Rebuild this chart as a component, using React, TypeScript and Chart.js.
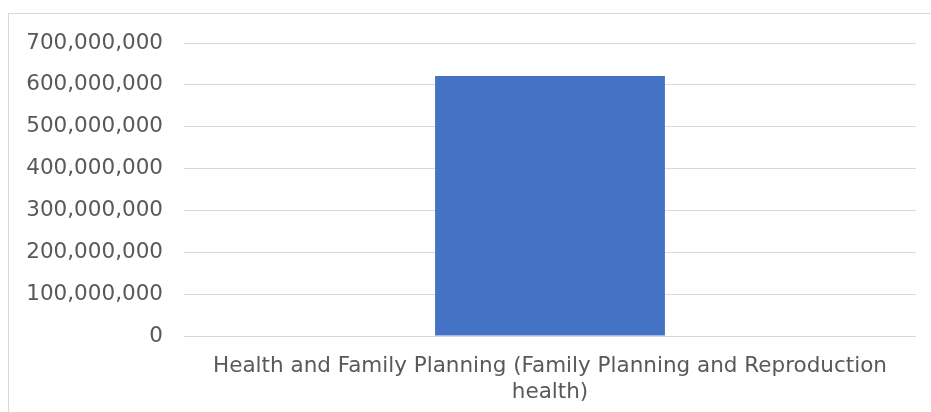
import React, { useEffect, useRef } from "react";
import { Chart, registerables } from "chart.js";

Chart.register(...registerables);

const categories: string[][] = [
  ["Health and Family Planning (Family Planning and Reproduction", "health)"],
];
const values: number[] = [621000000];
const yTicks: number[] = [0, 100000000, 200000000, 300000000, 400000000, 500000000, 600000000, 700000000];

export default function App() {
  const ref = useRef<HTMLCanvasElement | null>(null);
  useEffect(() => {
    if (!ref.current) return;
    const chart = new Chart(ref.current, {
      type: "bar",
      data: {
        labels: categories,
        datasets: [
          {
            data: values,
            backgroundColor: "#4472c4",
            borderWidth: 0,
            categoryPercentage: 1,
            barPercentage: 0.314,
          },
        ],
      },
      options: {
        animation: false,
        responsive: false,
        maintainAspectRatio: false,
        layout: { padding: { top: 29, right: 15, bottom: 0, left: 0 } },
        plugins: { legend: { display: false }, tooltip: { enabled: false } },
        scales: {
          x: {
            afterFit: (scale: any) => {
              scale.height = 76;
              scale.paddingTop = 0;
              scale.paddingBottom = 0;
            },
            grid: { display: false, drawTicks: false },
            border: { display: false },
            ticks: {
              color: "#595959",
              font: { family: "DejaVu Sans", size: 21.5 },
              padding: 18,
              maxRotation: 0,
              autoSkip: false,
            },
          },
          y: {
            min: yTicks[0],
            max: yTicks[yTicks.length - 1],
            afterBuildTicks: (scale: any) => {
              scale.ticks = yTicks.map((v) => ({ value: v }));
            },
            afterFit: (scale: any) => {
              scale.width = 175;
              scale.paddingTop = 0;
              scale.paddingBottom = 0;
            },
            grid: { color: "#d9d9d9", lineWidth: 1, drawTicks: false },
            border: { display: false },
            ticks: {
              color: "#595959",
              font: { family: "DejaVu Sans", size: 21.5 },
              padding: 21,
              callback: (v: any) => Number(v).toLocaleString("en-US"),
            },
          },
        },
      },
    });
    return () => chart.destroy();
  }, []);
  return (
    <div
      style={{
        position: "absolute",
        left: 8,
        top: 13,
        width: 922,
        height: 398,
        borderTop: "1px solid #d9d9d9",
        borderLeft: "1px solid #d9d9d9",
        overflow: "hidden",
      }}
    >
      <canvas ref={ref} width={922} height={398} style={{ display: "block" }} />
    </div>
  );
}
